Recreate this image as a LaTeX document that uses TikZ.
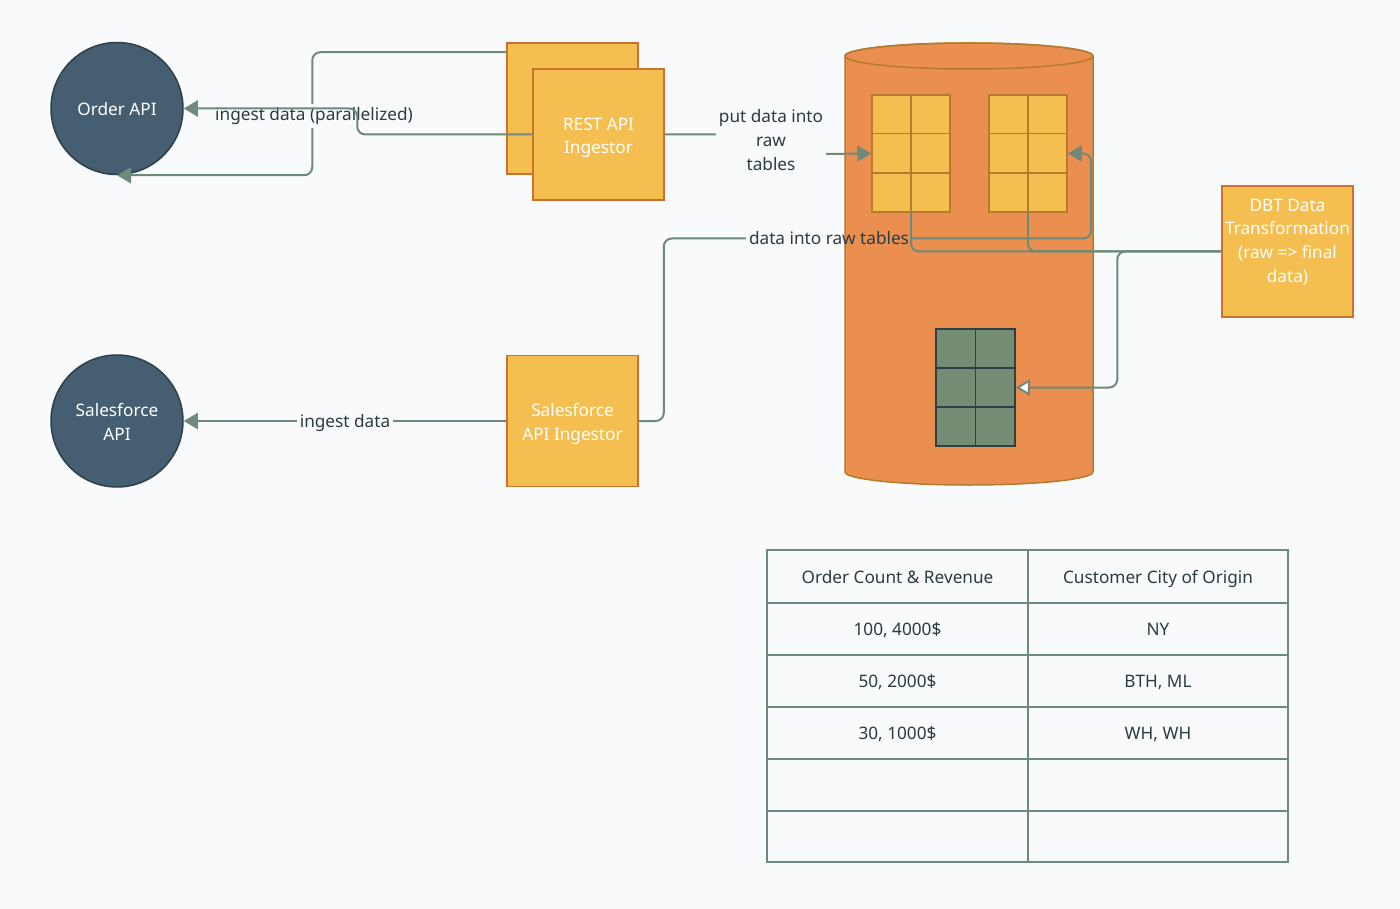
\documentclass[tikz,border=0pt]{standalone}
\usepackage{fontspec}
\setmainfont{Noto Sans}
\usetikzlibrary{arrows.meta,calc}
\definecolor{bg}{HTML}{F9FAFC}
\definecolor{slate}{HTML}{455E71}
\definecolor{slateedge}{HTML}{2E3F48}
\definecolor{boxfill}{HTML}{F5BE51}
\definecolor{boxedge}{HTML}{CB722E}
\definecolor{cylfill}{HTML}{EB8F50}
\definecolor{cyledge}{HTML}{B67A2C}
\definecolor{gridedge}{HTML}{B87B2E}
\definecolor{greencell}{HTML}{758C75}
\definecolor{conn}{HTML}{6E8A7A}
\definecolor{txt}{HTML}{2B3B42}
\newcommand\gridlines[2]{%
  \draw[#2] (#1.north) -- (#1.south);
  \draw[#2] ($(#1.north west)!1/3!(#1.south west)$) -- ($(#1.north east)!1/3!(#1.south east)$);
  \draw[#2] ($(#1.north west)!2/3!(#1.south west)$) -- ($(#1.north east)!2/3!(#1.south east)$);
}
\tikzset{
  fnt/.style={font=\fontsize{17.2}{23.6}\selectfont},
  apicircle/.style={circle, fill=slate, draw=slateedge, line width=1.5pt, minimum size=132pt, inner sep=0pt},
  procbox/.style={rectangle, fill=boxfill, draw=boxedge, line width=1.5pt, minimum width=131pt, minimum height=131pt, inner sep=0pt},
  whitetext/.style={text=white, align=center, fnt, inner sep=0pt},
  rawgrid/.style={rectangle, fill=boxfill, draw=gridedge, line width=1.5pt, minimum width=78pt, minimum height=117pt, inner sep=0pt},
  rawline/.style={draw=gridedge, line width=1.5pt},
  fingrid/.style={rectangle, fill=greencell, draw=slateedge, line width=1.5pt, minimum width=79pt, minimum height=117pt, inner sep=0pt},
  finline/.style={draw=slateedge, line width=1.5pt},
  conline/.style={draw=conn, line width=2pt, rounded corners=8pt},
  arr/.style={-{Triangle[length=14pt,width=16pt,fill=conn]}},
  openarr/.style={-{Triangle[open,fill=white,length=14pt,width=16pt]}},
  lbl/.style={fill=bg, text=txt, fnt, align=center, inner sep=3pt},
  lblnofill/.style={text=txt, fnt, align=center, inner sep=3pt},
  celltext/.style={text=txt, fnt, text height=12pt, text depth=0pt},
  tabline/.style={draw=conn, line width=2pt},
}
\begin{document}
\begin{tikzpicture}[x=1pt,y=-1pt]
\useasboundingbox (0,0) rectangle (1400,909);
\fill[bg] (0,0) rectangle (1400,909);

% cylinder
\filldraw[fill=cylfill, draw=cyledge, line width=1.5pt]
  (845,56) -- (845,472) arc (180:360:124pt and 13pt) -- (1093,56) arc (0:180:124pt and 13pt) -- cycle;
\draw[cyledge, line width=1.5pt] (969,56) ellipse (124pt and 13pt);

% grids in the warehouse
\node[rawgrid] (raw1) at (911,153.5) {};
\gridlines{raw1}{rawline}
\node[rawgrid] (raw2) at (1028,153.5) {};
\gridlines{raw2}{rawline}
\node[fingrid] (fin) at (975.5,387.5) {};
\gridlines{fin}{finline}

% API circles
\node[apicircle] (oa) at (117,108.5) {};
\node[whitetext] (oat) at (117,109.5) {Order API};
\node[apicircle] (sfa) at (117,421) {};
\node[whitetext] (sfat) at (117,422) {Salesforce\\API};

% ingestors
\node[procbox] (restb) at (572.5,108.5) {};
\node[procbox] (rest) at (598.5,134.5) {};
\node[whitetext] (restt) at (598.5,138) {REST API\\Ingestor};
\node[procbox] (sfi) at (572.5,421) {};
\node[whitetext] (sfit) at (572.5,424) {Salesforce\\API Ingestor};

% DBT
\node[procbox] (dbt) at (1287.5,251.5) {};
\node[whitetext] (dbtt) at (1287.5,242) {DBT Data\\Transformation\\(raw => final\\data)};

% connector 1: REST back box to Order API bottom
\draw[conline, arr] ($(restb.north west)+(0,10)$) -- ++(-194,0) |- (oa.south);
\node[lbl] (l1) at (314,116) {ingest data (parallelized)};
% connector 2: REST front box to Order API right
\draw[conline, arr] (rest.west) -- ++(-175,0) |- (oa.east);

% connector 3: REST to raw1
\draw[conline, arr] (rest.east) -- ++(106,0) -- ++(0,20) -- (raw1.west);
\node[lbl] (l3) at (771,140) {put data into\\raw\\tables};

% salesforce ingest
\draw[conline, arr] (sfi.west) -- (sfa.east);
\node[lbl] (l4) at (345,423) {ingest data};

% connector 4: salesforce ingestor to raw2
\node[lblnofill] (l5) at (829,238.5) {data into raw tables};
\draw[conline] (sfi.east) -- ++(25,0) |- (l5.west);
\draw[conline, arr] (l5.east) -- ++(179,0) |- (raw2.east);

% raw -> DBT
\draw[conline] (raw1.south) |- (dbt.west);
\draw[conline] (raw2.south) |- (dbt.west);
% DBT -> final
\draw[conline, openarr] (dbt.west) -- ++(-104,0) |- (fin.east);

% result table
\node[rectangle, draw=conn, line width=2pt, minimum width=521pt, minimum height=312pt, inner sep=0pt] (tbl) at (1027.5,706) {};
\draw[tabline] (tbl.north) -- (tbl.south);
\foreach \yy in {603,655,707,759,811} {
  \draw[tabline] (767,\yy) -- (1288,\yy);
}
\node[celltext] (c11) at (897.5,577) {Order Count \& Revenue};
\node[celltext] (c12) at (1158,577) {Customer City of Origin};
\node[celltext] (c21) at (897.5,629) {100, 4000\$};
\node[celltext] (c22) at (1158,629) {NY};
\node[celltext] (c31) at (897.5,681) {50, 2000\$};
\node[celltext] (c32) at (1158,681) {BTH, ML};
\node[celltext] (c41) at (897.5,733) {30, 1000\$};
\node[celltext] (c42) at (1158,733) {WH, WH};
\end{tikzpicture}
\end{document}
